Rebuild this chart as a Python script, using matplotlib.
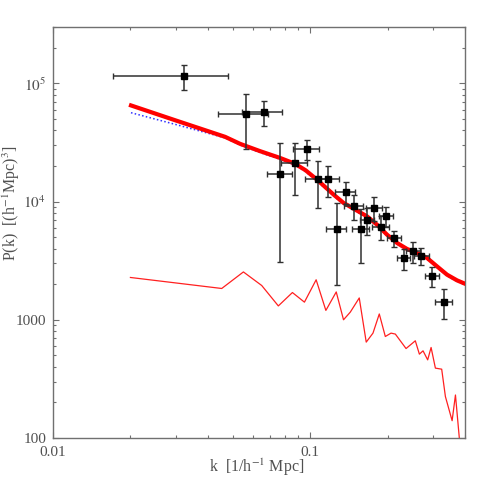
import numpy as np
import matplotlib
matplotlib.use("Agg")
import matplotlib.pyplot as plt

# measured band powers
k_data = [0.0324, 0.0562, 0.0662, 0.0764, 0.0873, 0.0970, 0.1068, 0.1175, 0.1266, 0.1373, 0.1480,
          0.1576, 0.1668, 0.1775, 0.1879, 0.1972, 0.2118, 0.2317, 0.2519, 0.2707, 0.2987, 0.3306]
dk_data = [0.0153, 0.0125, 0.0118, 0.0085, 0.0100, 0.0112, 0.0110, 0.0117, 0.0110, 0.0125, 0.0130,
           0.0117, 0.0110, 0.0125, 0.0140, 0.0127, 0.0136, 0.0137, 0.0150, 0.0180, 0.0190, 0.0260]
P_data = [115300, 54600, 57100, 17170, 21300, 28000, 15450, 15450, 5870, 12080, 9200,
          5870, 7040, 8840, 6140, 7610, 4890, 3310, 3790, 3490, 2360, 1420]
dP_data = [27900, 27000, 13800, 14100, 10000, 5500, 6600, 4600, 3900, 2600, 2200,
           2850, 1850, 2050, 1450, 1470, 800, 650, 780, 580, 450, 400]

# model (thick red) and linear model (blue dotted)
k_model = [0.0201, 0.0300, 0.0467, 0.0534, 0.0639, 0.0764, 0.0873, 0.0960, 0.1062, 0.1233,
           0.1348, 0.1497, 0.1663, 0.1819, 0.1990, 0.2177, 0.2381, 0.2604, 0.2848, 0.3115,
           0.3407, 0.3727, 0.4000]
P_model = [65100, 48600, 35300, 30800, 26700, 23400, 20900, 18400, 15360, 11470,
           9750, 8555, 7506, 6385, 5252, 4467, 3974, 3675, 3334, 2829,
           2407, 2154, 2019]
k_lin = [0.0201, 0.0300, 0.0467, 0.0534, 0.0639, 0.0764, 0.0873, 0.0960, 0.1062, 0.1233,
         0.1348, 0.1497, 0.1663, 0.1819, 0.1990, 0.2177, 0.2381, 0.2604, 0.2848, 0.3115,
         0.3407, 0.3727, 0.4000]
P_lin = [56500, 44900, 34600, 30100, 26000, 22800, 20400, 17900, 14950, 11200,
         9520, 8350, 7330, 6230, 5130, 4360, 3880, 3590, 3260, 2770,
         2360, 2110, 1980]

# thin red curve
k_thin = [0.0200, 0.0453, 0.0550, 0.0648, 0.0752, 0.0853, 0.0950, 0.1055, 0.1151, 0.1263, 0.1348,
          0.1432, 0.1552, 0.1652, 0.1755, 0.1857, 0.1960, 0.2063, 0.2144, 0.2360, 0.2564, 0.2659,
          0.2748, 0.2864, 0.2953, 0.3069, 0.3247, 0.3357, 0.3565, 0.3673, 0.3807]
P_thin = [2280, 1840, 2540, 1950, 1310, 1700, 1410, 2180, 1200, 1720, 1000,
          1160, 1530, 647, 771, 1120, 722, 771, 757, 571, 664, 512,
          546, 458, 583, 390, 382, 224, 140, 231, 97]

grey = '#707070'
txt = '#505050'
plt.rcParams['font.family'] = ['Liberation Serif', 'DejaVu Serif']
plt.rcParams['mathtext.fontset'] = 'stix'

fig = plt.figure(figsize=(4.91, 4.91), dpi=100)
ax = fig.add_axes([0.108, 0.108, 0.839, 0.837])

ax.plot(k_lin, P_lin, color='#3030ff', linestyle=(0, (1, 1.5)), linewidth=1.1, zorder=2)
ax.plot(k_model, P_model, color='#ff0000', linewidth=3, zorder=3)
ax.plot(k_thin, P_thin, color='#ff2020', linewidth=0.9, zorder=2)
ax.errorbar(k_data, P_data, xerr=dk_data, yerr=dP_data, fmt='s', color='black',
            ecolor='#303030', elinewidth=1.1, capsize=2.5, capthick=1.0,
            markersize=5, zorder=4)

ax.set_xscale('log')
ax.set_yscale('log')
ax.set_xlim(0.01, 0.4)
ax.set_ylim(100, 3.0e5)

ax.set_xticks([0.01, 0.1])
ax.set_xticklabels(['0.01', '0.1'])
ax.set_yticks([100, 1000, 1e4, 1e5])
ax.set_yticklabels(['100', '1000', r'$10^4$', r'$10^5$'])

ax.tick_params(which='both', direction='in', top=True, right=True, colors=grey,
               labelcolor=txt, labelsize=11, width=0.8)
ax.tick_params(which='major', length=4.5)
ax.tick_params(which='minor', length=2.2)
ax.tick_params(axis='x', which='major', pad=6)
ax.tick_params(axis='y', which='major', pad=5)
for s in ax.spines.values():
    s.set_color(grey)
    s.set_linewidth(1.0)

fig.text(257 / 491, 1 - 467 / 491, r'k  [1/h$^{-1}$ Mpc]', color=txt, fontsize=11.5,
         ha='center', va='center')
fig.text(11 / 491, 1 - 203 / 491, r'P(k)  [(h$^{-1}$Mpc)$^3$]', color=txt, fontsize=11.5,
         ha='center', va='center', rotation=90)

plt.savefig('out.png', dpi=100)
